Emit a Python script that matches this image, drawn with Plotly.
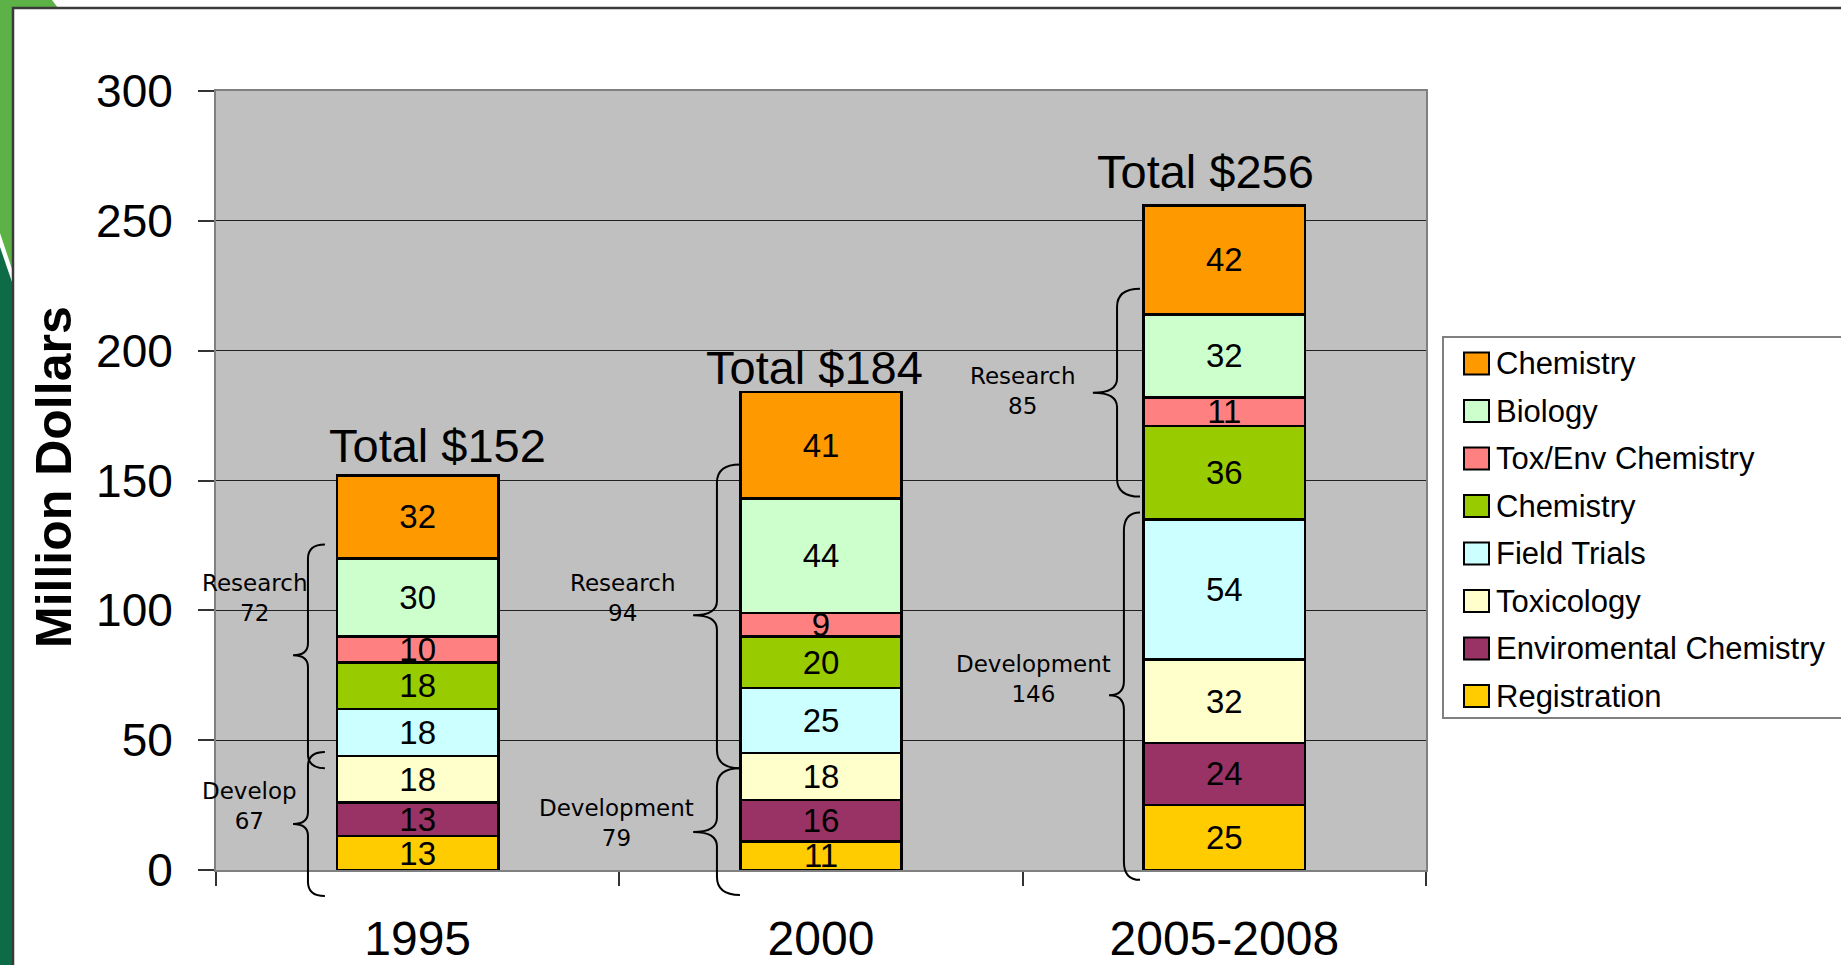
import plotly.graph_objects as go

# ---------------- data ----------------
years = ["1995", "2000", "2005-2008"]
registration = [13, 11, 25]
enviromental_chemistry = [13, 16, 24]
toxicology = [18, 18, 32]
field_trials = [18, 25, 54]
chemistry_dev = [18, 20, 36]
tox_env_chemistry = [10, 9, 11]
biology = [30, 44, 32]
chemistry_res = [32, 41, 42]

research_names = ["Research", "Research", "Research"]
research_values = [72, 94, 85]
development_names = ["Develop", "Development", "Development"]
development_values = [67, 79, 146]
y_tick_values = [0, 50, 100, 150, 200, 250, 300]

# stacking order bottom -> top
series = [
    ("Registration", registration, "#FFCC00"),
    ("Enviromental Chemistry", enviromental_chemistry, "#993366"),
    ("Toxicology", toxicology, "#FFFFCC"),
    ("Field Trials", field_trials, "#CCFFFF"),
    ("Chemistry", chemistry_dev, "#99CC00"),
    ("Tox/Env Chemistry", tox_env_chemistry, "#FF8080"),
    ("Biology", biology, "#CCFFCC"),
    ("Chemistry", chemistry_res, "#FF9900"),
]

W, H = 1841, 965
PL, PR, PT, PB = 216, 1426, 91, 870  # plot area pixels
X_RANGE = [-0.5, 2.5]
Y_RANGE = [0, 300]


def pxx(px):
    return (px - PL) / (PR - PL)


def pxy(py):
    return (PB - py) / (PB - PT)


def dx2p(x):
    return (x - X_RANGE[0]) / (X_RANGE[1] - X_RANGE[0])


def dy2p(y):
    return (y - Y_RANGE[0]) / (Y_RANGE[1] - Y_RANGE[0])


xpos = list(range(len(years)))
fig = go.Figure()
for name, vals, color in series:
    fig.add_trace(go.Bar(
        x=xpos, y=vals, name=name, width=0.4,
        marker=dict(color=color, line=dict(color="black", width=2.5)),
        text=vals, texttemplate="%{text}", textposition="inside", textangle=0,
        insidetextanchor="middle", constraintext="none",
        insidetextfont=dict(family="Liberation Sans, Arial", size=33, color="black"),
        showlegend=False, hoverinfo="skip",
    ))

totals = [sum(s[1][i] for s in series) for i in range(len(years))]

shapes = []
annotations = []

# --- green slide decoration and frame ---
shapes.append(dict(type="path", xref="paper", yref="paper", layer="below",
                   path=f"M {pxx(0)},{pxy(247)} L {pxx(13)},{pxy(285)} L {pxx(13)},{pxy(965)} L {pxx(0)},{pxy(965)} Z",
                   fillcolor="#0E6B47", line=dict(width=0)))
shapes.append(dict(type="path", xref="paper", yref="paper", layer="below",
                   path=(f"M {pxx(0)},{pxy(0)} L {pxx(52)},{pxy(0)} L {pxx(58)},{pxy(8)} L {pxx(13)},{pxy(8)} "
                         f"L {pxx(13)},{pxy(272)} L {pxx(0)},{pxy(233)} Z"),
                   fillcolor="#5CB246", line=dict(width=0)))
shapes.append(dict(type="path", xref="paper", yref="paper", layer="above",
                   path=f"M {pxx(13)},{pxy(966)} L {pxx(13)},{pxy(8)} L {pxx(1842)},{pxy(8)}",
                   line=dict(color="#3A3A3A", width=2.5)))

# --- braces (curly) ---
# (category index, end dx, line dx, tip dx, y top, y tip, y bottom, r_end, r_tip)
braces = [
    (0, -0.230, -0.272, -0.309, 125.4, 82.7, 39.2, 5.5, 4.5),
    (0, -0.230, -0.272, -0.309, 45.4, 17.7, -10.0, 5.5, 4.5),
    (1, -0.201, -0.258, -0.317, 156.2, 98.1, 39.2, 7.0, 5.5),
    (1, -0.201, -0.258, -0.317, 39.2, 14.6, -9.6, 7.0, 5.5),
    (2, -0.209, -0.266, -0.326, 223.8, 183.8, 143.8, 7.0, 5.5),
    (2, -0.209, -0.249, -0.286, 137.7, 67.3, -3.8, 7.0, 5.5),
]
for ci, de, dl, dt, yt, ym, yb, r1, r2 in braces:
    xe, xl, xt = dx2p(ci + de), dx2p(ci + dl), dx2p(ci + dt)
    p = (f"M {xe},{dy2p(yt)} Q {xl},{dy2p(yt)} {xl},{dy2p(yt - r1)} L {xl},{dy2p(ym + r2)} "
         f"Q {xl},{dy2p(ym)} {xt},{dy2p(ym)} Q {xl},{dy2p(ym)} {xl},{dy2p(ym - r2)} "
         f"L {xl},{dy2p(yb + r1)} Q {xl},{dy2p(yb)} {xe},{dy2p(yb)}")
    shapes.append(dict(type="path", xref="paper", yref="paper", path=p, layer="above",
                       line=dict(color="black", width=2)))

# --- research / development labels ---
label_font = dict(family="DejaVu Sans, Verdana", size=23, color="black")
research_pos = [(-0.403, 104.6), (0.509, 104.6), (1.501, 184.4)]
develop_pos = [(-0.418, 24.6), (0.492, 18.1), (1.526, 73.7)]
for i in range(len(years)):
    annotations.append(dict(x=research_pos[i][0], y=research_pos[i][1], xref="x", yref="y",
                            text=f"{research_names[i]}<br>{research_values[i]}", showarrow=False,
                            font=label_font, align="center", xanchor="center", yanchor="middle"))
    annotations.append(dict(x=develop_pos[i][0], y=develop_pos[i][1], xref="x", yref="y",
                            text=f"{development_names[i]}<br>{development_values[i]}", showarrow=False,
                            font=label_font, align="center", xanchor="center", yanchor="middle"))

# --- totals ---
total_dx = [0.05, -0.015, -0.047]
total_shift = [1, -4, 5]
for i, t in enumerate(totals):
    annotations.append(dict(x=i + total_dx[i], y=t, xref="x", yref="y", text=f"Total ${t}",
                            showarrow=False, yanchor="bottom", xanchor="center", yshift=total_shift[i],
                            font=dict(family="Liberation Sans, Arial", size=47, color="black")))

# --- y axis title ---
annotations.append(dict(x=pxx(54), y=pxy(477), xref="paper", yref="paper", text="<b>Million Dollars</b>",
                        textangle=-90, showarrow=False, xanchor="center", yanchor="middle",
                        font=dict(family="Liberation Sans, Arial", size=50, color="black")))

# --- manual legend ---
shapes.append(dict(type="rect", xref="paper", yref="paper", layer="above",
                   x0=pxx(1443), x1=pxx(1860), y0=pxy(337), y1=pxy(718),
                   line=dict(color="#808080", width=2), fillcolor="white"))
legend_items = list(reversed(series))
for k, (name, vals, color) in enumerate(legend_items):
    cy = 363.5 + 47.5 * k
    shapes.append(dict(type="rect", xref="paper", yref="paper", layer="above",
                       x0=pxx(1464), x1=pxx(1489), y0=pxy(cy + 11), y1=pxy(cy - 11),
                       line=dict(color="black", width=2), fillcolor=color))
    annotations.append(dict(x=pxx(1494), y=pxy(cy), xref="paper", yref="paper", text=name,
                            showarrow=False, xanchor="left", yanchor="middle",
                            font=dict(family="Liberation Sans, Arial", size=31, color="black")))

fig.update_layout(
    width=W, height=H,
    margin=dict(l=PL, r=W - PR, t=PT, b=H - PB, pad=0, autoexpand=False),
    paper_bgcolor="white", plot_bgcolor="#C0C0C0",
    barmode="stack", showlegend=False,
    shapes=shapes, annotations=annotations,
    xaxis=dict(range=X_RANGE, tickmode="array", tickvals=xpos, ticktext=years,
               ticks="", showgrid=False, zeroline=False, automargin=False,
               showline=True, linecolor="#808080", linewidth=2, mirror=True,
               tickfont=dict(family="Liberation Sans, Arial", size=48, color="black"),
               ticklabelstandoff=25,
               minor=dict(tickmode="array", tickvals=[-0.5, 0.5, 1.5, 2.5], ticks="outside",
                          ticklen=14, tickwidth=1.5, tickcolor="#333333", showgrid=False)),
    yaxis=dict(range=Y_RANGE, tickmode="array", tickvals=y_tick_values,
               ticks="outside", ticklen=16, tickwidth=1.5, tickcolor="#333333",
               showgrid=True, gridcolor="#202020", gridwidth=1, zeroline=False, automargin=False,
               showline=True, linecolor="#808080", linewidth=2, mirror=True,
               tickfont=dict(family="Liberation Sans, Arial", size=46, color="black"),
               ticklabelstandoff=16),
)

fig.write_html("out.html", config={"displayModeBar": False},
               post_script="document.body.style.margin='0';document.body.style.overflow='hidden';")
